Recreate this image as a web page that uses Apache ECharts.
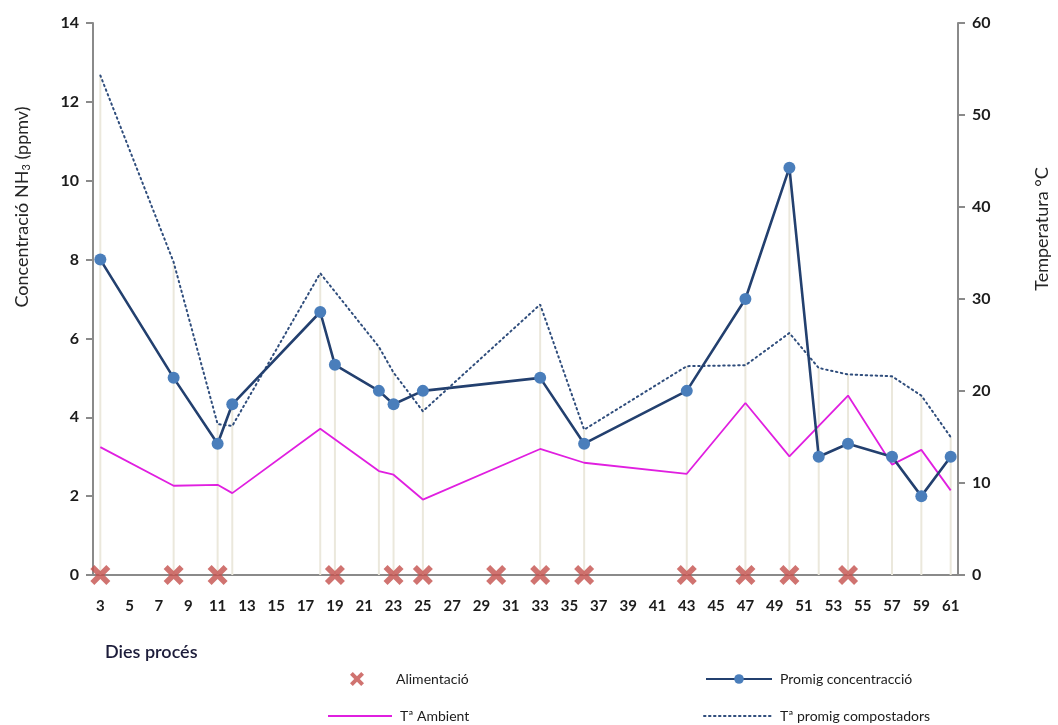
<!DOCTYPE html>
<html>
<head>
<meta charset="utf-8">
<script src="https://cdn.jsdelivr.net/npm/echarts@6/dist/echarts.min.js"></script>
<style>
  html, body { margin: 0; padding: 0; background: #fff; }
  #chart { width: 1058px; height: 725px; }
</style>
</head>
<body>
<div id="chart"></div>
<script>
// Process days shown on the category axis
const dayLabels = ['3','4','5','6','7','8','9','10','11','12','13','14','15','16','17','18','19','20',
  '21','22','23','24','25','26','27','28','29','30','31','32','33','34','35','36','37','38','39','40',
  '41','42','43','44','45','46','47','48','49','50','51','52','53','54','55','56','57','58','59','60','61'];

// Feeding days (Alimentació)
const feedDays = ['3','8','11','19','23','25','30','33','36','43','47','50','54'];

// Average NH3 concentration (ppmv)
const concDays = ['3','8','11','12','18','19','22','23','25','33','36','43','47','50','52','54','57','59','61'];
const concValues = [8, 5, 3.33, 4.33, 6.67, 5.33, 4.67, 4.33, 4.67, 5, 3.33, 4.67, 7, 10.33, 3, 3.33, 3, 2, 3];

// Ambient temperature (°C)
const ambDays = ['3','8','11','12','18','22','23','25','33','36','43','47','50','54','57','59','61'];
const ambValues = [13.9, 9.7, 9.8, 8.9, 15.9, 11.3, 10.9, 8.2, 13.7, 12.2, 11.0, 18.7, 12.9, 19.5, 12.0, 13.6, 9.2];

// Average composter temperature (°C)
const compDays = ['3','8','11','12','18','22','23','25','33','36','43','47','50','52','54','57','59','61'];
const compValues = [54.3, 34.0, 16.4, 16.2, 32.8, 24.8, 22.0, 17.8, 29.4, 15.8, 22.7, 22.8, 26.3, 22.5, 21.8, 21.6, 19.5, 15.0];

// Axis tick values
const concTicks = { min: 0, max: 14, interval: 2 };
const tempTicks = { min: 0, max: 60, interval: 10 };

// Drop lines: from the highest series value of each measured day down to the axis
const dropDays = Array.from(new Set([].concat(concDays, ambDays, compDays)))
  .sort((a, b) => Number(a) - Number(b));
const dropData = dropDays.map(d => {
  const vals = [];
  const ci = concDays.indexOf(d);
  if (ci >= 0) vals.push(concValues[ci] * tempTicks.max / concTicks.max);
  const ai = ambDays.indexOf(d);
  if (ai >= 0) vals.push(ambValues[ai]);
  const pi = compDays.indexOf(d);
  if (pi >= 0) vals.push(compValues[pi]);
  return [d, Math.max.apply(null, vals)];
});

const pair = (days, vals) => days.map((d, i) => [d, vals[i]]);

// Bold "x" marker for feeding days
const crossPath = 'path://M0,4 L4,0 L10,6 L16,0 L20,4 L14,10 L20,16 L16,20 L10,14 L4,20 L0,16 L6,10 Z';

const FONT = 'Lato, "Open Sans", sans-serif';
const AXIS_GREY = '#8a8a8a';
const TXT = '#1c1c1c';

const chart = echarts.init(document.getElementById('chart'), null, { renderer: 'canvas' });

const legendText = { fontFamily: FONT, fontSize: 14, color: TXT };

chart.setOption({
  animation: false,
  backgroundColor: '#ffffff',
  grid: { left: 93, right: 100, top: 23, bottom: 150, containLabel: false },
  xAxis: {
    type: 'category',
    data: dayLabels,
    boundaryGap: true,
    axisLine: { lineStyle: { color: AXIS_GREY, width: 2 } },
    axisTick: { show: false },
    axisLabel: {
      interval: 1, margin: 24,
      fontFamily: FONT, fontSize: 15, fontWeight: 'bold', color: TXT
    },
    splitLine: { show: false }
  },
  yAxis: [
    {
      type: 'value', min: concTicks.min, max: concTicks.max, interval: concTicks.interval,
      position: 'left',
      axisLine: { show: true, lineStyle: { color: AXIS_GREY, width: 2 } },
      axisTick: { show: true, length: 7, lineStyle: { color: AXIS_GREY, width: 2 } },
      axisLabel: { margin: 14, fontFamily: FONT, fontSize: 16, fontWeight: 'bold', color: TXT },
      splitLine: { show: false }
    },
    {
      type: 'value', min: tempTicks.min, max: tempTicks.max, interval: tempTicks.interval,
      position: 'right',
      axisLine: { show: true, lineStyle: { color: AXIS_GREY, width: 2 } },
      axisTick: { show: true, length: 7, lineStyle: { color: AXIS_GREY, width: 2 } },
      axisLabel: { margin: 14, fontFamily: FONT, fontSize: 16, fontWeight: 'bold', color: TXT },
      splitLine: { show: false }
    }
  ],
  legend: [
    { left: 345, top: 667, itemWidth: 14, itemHeight: 14, data: ['Alimentació'],
      textStyle: Object.assign({ padding: [0, 0, 0, 27] }, legendText) },
    { left: 700, top: 667, itemWidth: 66, itemHeight: 12, data: ['Promig concentracció'],
      textStyle: Object.assign({ padding: [0, 0, 0, 3] }, legendText) },
    { left: 322, top: 704, itemWidth: 64, itemHeight: 12, data: ['Tª Ambient'],
      itemStyle: { opacity: 0 },
      textStyle: Object.assign({ padding: [0, 0, 0, 3] }, legendText) },
    { left: 698, top: 704, itemWidth: 68, itemHeight: 12, data: ['Tª promig compostadors'],
      itemStyle: { opacity: 0 },
      textStyle: Object.assign({ padding: [0, 0, 0, 3] }, legendText) }
  ],
  graphic: [
    {
      type: 'text', x: 22, y: 207, rotation: Math.PI / 2,
      style: {
        text: 'Concentració NH{sub|3} (ppmv)',
        fontFamily: FONT, fontSize: 18, fill: '#262626',
        align: 'center', verticalAlign: 'middle',
        rich: { sub: { fontFamily: FONT, fontSize: 11, fill: '#262626', padding: [9, 0, 0, 0] } }
      }
    },
    {
      type: 'text', x: 1042, y: 229, rotation: Math.PI / 2,
      style: {
        text: 'Temperatura °C',
        fontFamily: FONT, fontSize: 18, fill: '#262626',
        align: 'center', verticalAlign: 'middle'
      }
    },
    {
      type: 'text', x: 105, y: 652,
      style: {
        text: 'Dies procés',
        fontFamily: FONT, fontSize: 18, fontWeight: 600, fill: '#1c1c3a',
        align: 'left', verticalAlign: 'middle'
      }
    }
  ],
  series: [
    {
      name: 'drops', type: 'bar', yAxisIndex: 1, barWidth: 2,
      data: dropData, itemStyle: { color: '#ebe8dc' }, z: 1,
      silent: true
    },
    {
      name: 'Tª promig compostadors', type: 'line', yAxisIndex: 1,
      data: pair(compDays, compValues),
      symbol: 'none',
      lineStyle: { color: '#2f4d7c', width: 2, type: [1.5, 3.5], cap: 'round' },
      itemStyle: { color: '#2f4d7c' },
      z: 3
    },
    {
      name: 'Tª Ambient', type: 'line', yAxisIndex: 1,
      data: pair(ambDays, ambValues),
      symbol: 'none',
      lineStyle: { color: '#e01fe0', width: 1.8 },
      itemStyle: { color: '#e01fe0' },
      z: 3
    },
    {
      name: 'Promig concentracció', type: 'line', yAxisIndex: 0,
      data: pair(concDays, concValues),
      symbol: 'circle', symbolSize: 12, showAllSymbol: true,
      lineStyle: { color: '#23406f', width: 2.6 },
      itemStyle: { color: '#4a7ebb' },
      z: 4
    },
    {
      name: 'Alimentació', type: 'scatter', yAxisIndex: 0,
      data: feedDays.map(d => [d, 0]),
      symbol: crossPath, symbolSize: 20,
      itemStyle: { color: '#c4504c' },
      z: 6
    }
  ]
});
</script>
</body>
</html>
